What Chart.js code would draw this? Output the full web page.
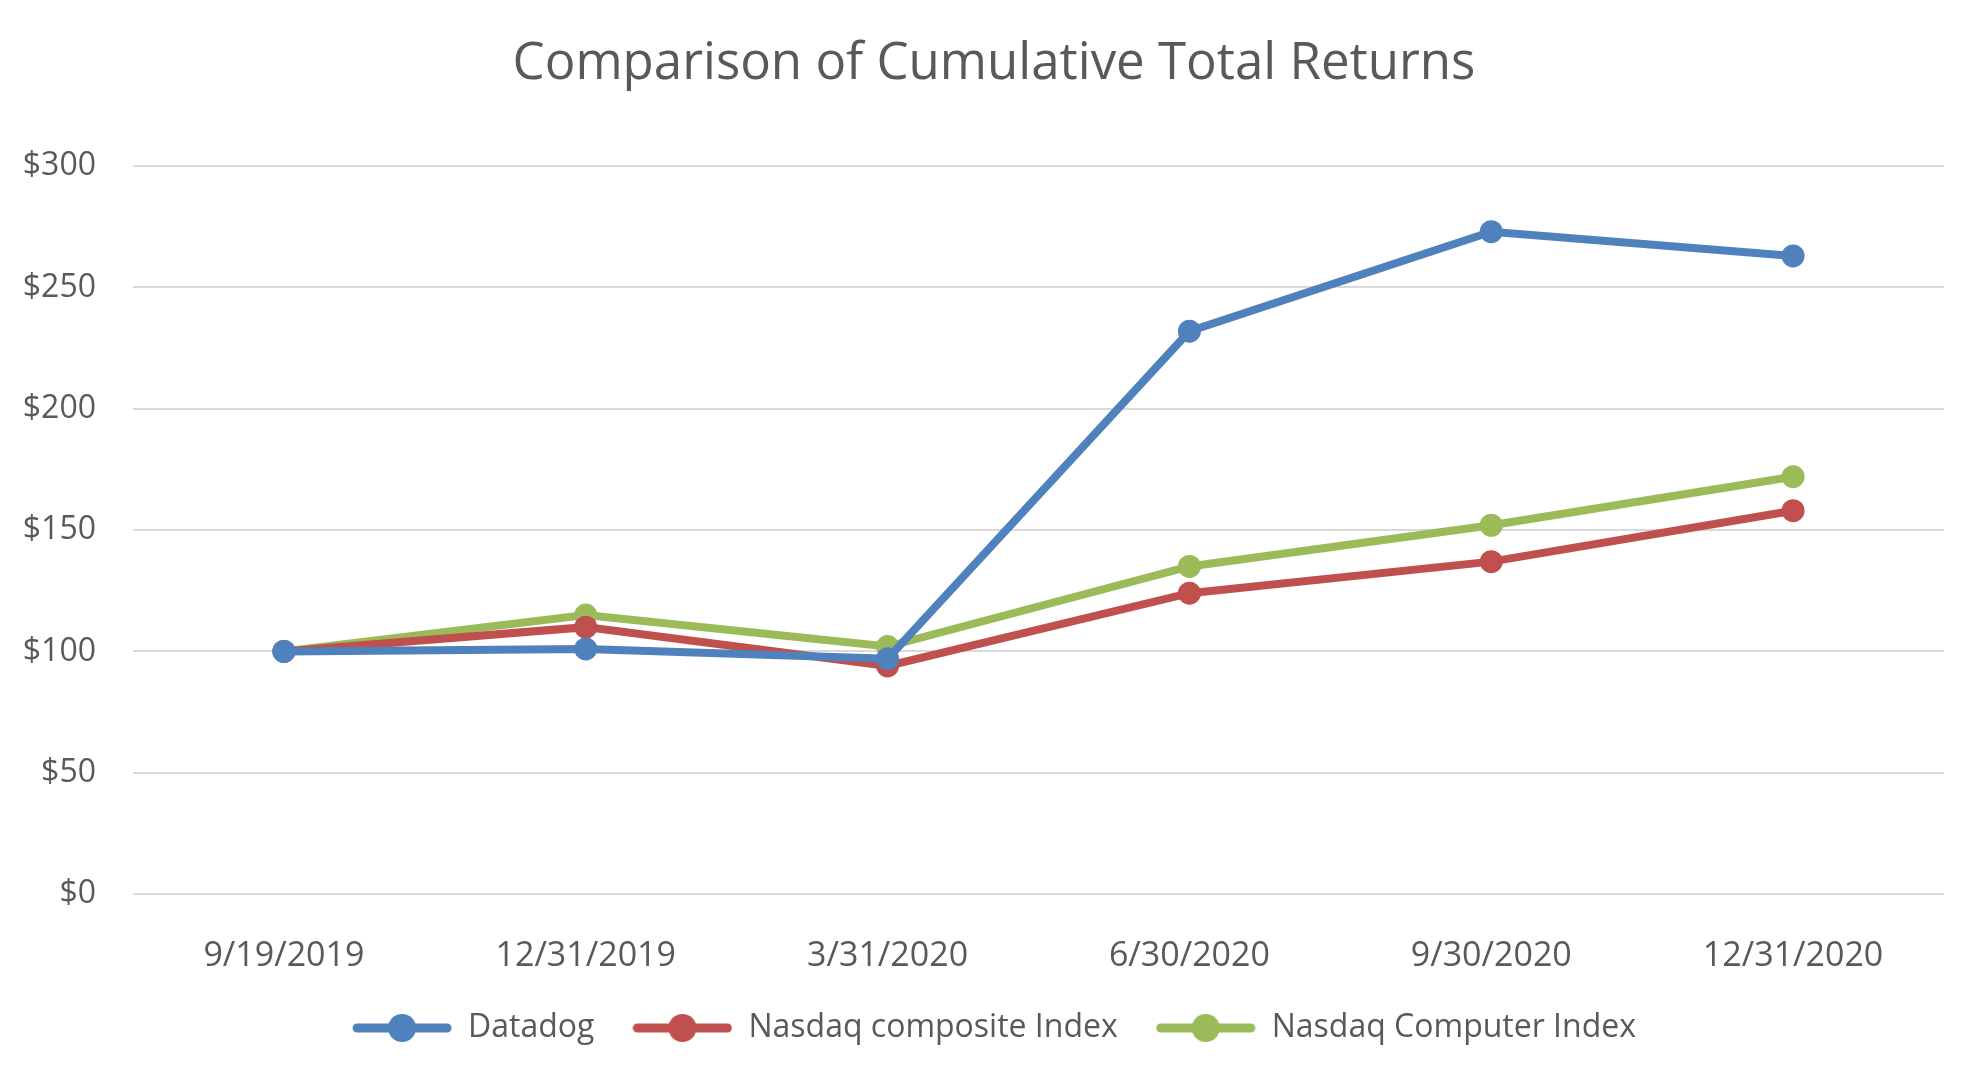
<!DOCTYPE html>
<html>
<head>
<meta charset="utf-8">
<script src="https://cdn.jsdelivr.net/npm/chart.js@4/dist/chart.umd.min.js"></script>
<style>
html,body{margin:0;padding:0;background:#fff;}
#wrap{width:1988px;height:1082px;position:relative;}
</style>
</head>
<body>
<div id="wrap"><canvas id="c"></canvas></div>
<script>
const titleText = "Comparison of Cumulative Total Returns";
const categories = ["9/19/2019", "12/31/2019", "3/31/2020", "6/30/2020", "9/30/2020", "12/31/2020"];
const seriesNames = ["Datadog", "Nasdaq composite Index", "Nasdaq Computer Index"];
const datadog = [100, 101, 97, 232, 273, 263];
const nasdaqComposite = [100, 110, 94, 124, 137, 158];
const nasdaqComputer = [100, 115, 102, 135, 152, 172];
const yTicks = [0, 50, 100, 150, 200, 250, 300];
const colors = ["#4F81BD", "#C0504D", "#9BBB59"];

const FONT = "'Open Sans', sans-serif";
const TEXT = "#595959";

function legendIcon(color) {
  const c = document.createElement('canvas');
  c.width = 100; c.height = 30;
  const x = c.getContext('2d');
  x.strokeStyle = color; x.lineWidth = 9; x.lineCap = 'round';
  x.beginPath(); x.moveTo(5, 15); x.lineTo(95, 15); x.stroke();
  x.fillStyle = color;
  x.beginPath(); x.arc(50, 15, 14, 0, Math.PI * 2); x.fill();
  return c;
}
const icons = colors.map(legendIcon);

const seriesValues = [datadog, nasdaqComposite, nasdaqComputer];
const datasets = seriesNames.map((n, i) => ({
  label: n,
  data: seriesValues[i],
  borderColor: colors[i],
  backgroundColor: colors[i],
  borderWidth: 8,
  pointRadius: 11.5,
  pointHoverRadius: 11.5,
  pointBorderWidth: 0,
  tension: 0,
  fill: false
}));

new Chart(document.getElementById('c'), {
  type: 'line',
  data: { labels: categories, datasets: datasets },
  options: {
    responsive: true,
    maintainAspectRatio: false,
    animation: false,
    layout: { padding: { left: 0, right: 0, top: 0, bottom: 28 } },
    plugins: {
      title: {
        display: true,
        text: titleText,
        color: TEXT,
        font: { family: FONT, size: 51, weight: 'normal' },
        padding: { top: 34, bottom: 71 }
      },
      legend: {
        position: 'bottom',
        labels: {
          color: TEXT,
          font: { family: FONT, size: 32 },
          usePointStyle: true,
          pointStyleWidth: 100,
          boxHeight: 30,
          padding: 38,
          generateLabels: (chart) => chart.data.datasets.map((d, i) => ({
            text: d.label,
            pointStyle: icons[i],
            fillStyle: colors[i],
            strokeStyle: colors[i],
            lineWidth: 0,
            hidden: false,
            datasetIndex: i,
            fontColor: TEXT
          }))
        }
      },
      tooltip: { enabled: false }
    },
    scales: {
      x: {
        offset: true,
        grid: { display: false, drawTicks: false },
        border: { display: false },
        ticks: { color: TEXT, font: { family: FONT, size: 34 }, padding: 42, maxRotation: 0 },
        afterFit: (s) => { s.height = 80; }
      },
      y: {
        min: 0, max: 300,
        afterBuildTicks: (s) => { s.ticks = yTicks.map(v => ({ value: v })); },
        grid: { color: "#D9D9D9", lineWidth: 2, drawTicks: false },
        border: { display: false },
        ticks: { color: TEXT, font: { family: FONT, size: 32 }, padding: 37, callback: (v) => '$' + v },
        afterFit: (s) => { s.width = 133; }
      },
      yRightSpace: {
        position: 'right',
        display: true,
        min: 0, max: 300,
        grid: { display: false, drawTicks: false },
        border: { display: false },
        ticks: { display: false },
        afterFit: (s) => { s.width = 44; }
      }
    }
  }
});
</script>
</body>
</html>
